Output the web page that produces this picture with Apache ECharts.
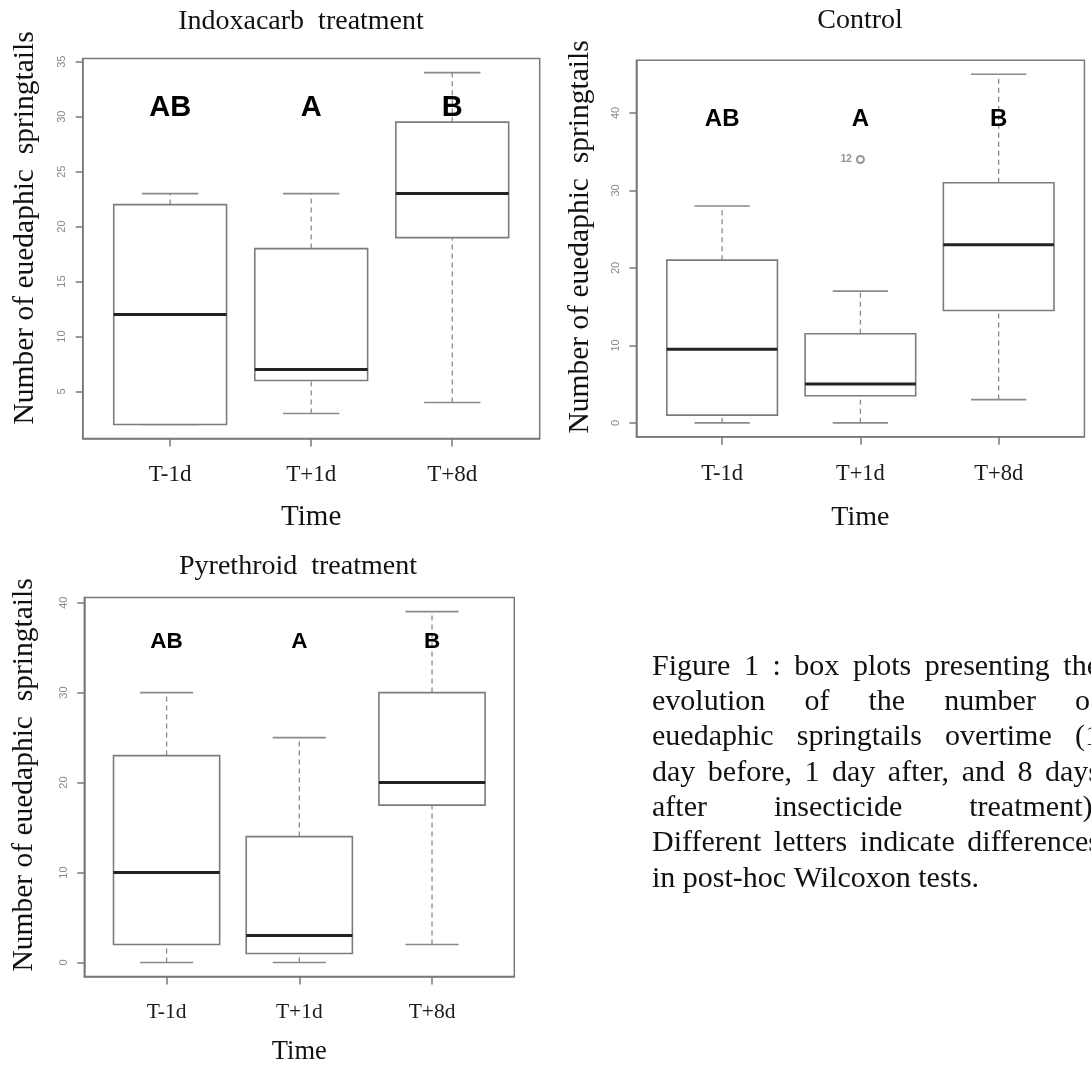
<!DOCTYPE html>
<html><head><meta charset="utf-8">
<script src="https://cdn.jsdelivr.net/npm/echarts@6/dist/echarts.min.js"></script>
<style>html,body{margin:0;padding:0;background:#fff}#c{width:1091px;height:1068px}</style>
</head><body><div id="c"></div>
<script>
// ---------------- data ----------------
const timeCategories = ['T-1d', 'T+1d', 'T+8d'];
// each box: [min, Q1, median, Q3, max]
const indoxacarbBoxes = [[2, 2, 12, 22, 23], [3, 6, 7, 18, 23], [4, 19, 23, 29.5, 34]];
const controlBoxes    = [[0, 1, 9.5, 21, 28], [0, 3.5, 5, 11.5, 17], [3, 14.5, 23, 31, 45]];
const pyrethroidBoxes = [[0, 2, 10, 23, 30], [0, 1, 3, 14, 25], [2, 17.5, 20, 30, 39]];
// outliers: [category position (1-based), value, point label]
const indoxacarbOutliers = [];
const controlOutliers = [[2, 34, '12']];
const pyrethroidOutliers = [];
const groupLetters = ['AB', 'A', 'B'];
const indoxacarbLetterLevel = 30.8;
const controlLetterLevel = 39.2;
const pyrethroidLetterLevel = 35.6;
const indoxacarbTicks = [5, 10, 15, 20, 25, 30, 35];
const controlTicks = [0, 10, 20, 30, 40];
const pyrethroidTicks = [0, 10, 20, 30, 40];
const panelTitles = ['Indoxacarb  treatment', 'Control', 'Pyrethroid  treatment'];
const yAxisTitle = 'Number of euedaphic  springtails';
const xAxisTitle = 'Time';
const captionLines = [
  'Figure 1 : box plots presenting the',
  'evolution of the number of',
  'euedaphic springtails overtime (1',
  'day before, 1 day after, and 8 days',
  'after insecticide treatment).',
  'Different letters indicate differences',
  'in post-hoc Wilcoxon tests.'
];

// ---------------- layout / style ----------------
const SERIF = "'Liberation Serif', 'Times New Roman', serif";
const SANS = "'Liberation Sans', Arial, sans-serif";
const panels = [
  { boxes: indoxacarbBoxes, outliers: indoxacarbOutliers, ticks: indoxacarbTicks, letterLevel: indoxacarbLetterLevel,
    grid: { left: 82.7, top: 58.6, width: 457, height: 380 }, letterSize: 29, catSize: 23, timeSize: 29, timeGap: 64, catMargin: 25,
    title: { x: 301, y: 22 }, ytitle: { x: 25, y: 228 } },
  { boxes: controlBoxes, outliers: controlOutliers, ticks: controlTicks, letterLevel: controlLetterLevel,
    grid: { left: 636.4, top: 60.3, width: 448, height: 376.5 }, letterSize: 24, catSize: 22.5, timeSize: 28, timeGap: 67, catMargin: 26,
    title: { x: 860, y: 21 }, ytitle: { x: 580, y: 237 } },
  { boxes: pyrethroidBoxes, outliers: pyrethroidOutliers, ticks: pyrethroidTicks, letterLevel: pyrethroidLetterLevel,
    grid: { left: 84.3, top: 597.6, width: 430, height: 379 }, letterSize: 22.5, catSize: 21.5, timeSize: 26.5, timeGap: 62, catMargin: 25,
    title: { x: 298, y: 567 }, ytitle: { x: 24, y: 775 } }
];

const BOX_HALF = 0.4, CAP_HALF = 0.2;
function boxRender(params, api) {
  const x = api.value(0), mn = api.value(1), q1 = api.value(2), md = api.value(3), q3 = api.value(4), mx = api.value(5);
  const p = (xx, yy) => api.coord([xx, yy]);
  const line = (a, b, style) => ({ type: 'line', shape: { x1: a[0], y1: a[1], x2: b[0], y2: b[1] }, style });
  const dashed = { stroke: '#8a8a8a', lineWidth: 1.3, lineDash: [5, 4] };
  const solid = { stroke: '#8a8a8a', lineWidth: 1.6 };
  const tl = p(x - BOX_HALF, q3), br = p(x + BOX_HALF, q1);
  return { type: 'group', children: [
    line(p(x, q3), p(x, mx), dashed),
    line(p(x, mn), p(x, q1), dashed),
    line(p(x - CAP_HALF, mx), p(x + CAP_HALF, mx), solid),
    line(p(x - CAP_HALF, mn), p(x + CAP_HALF, mn), solid),
    { type: 'rect', shape: { x: tl[0], y: tl[1], width: br[0] - tl[0], height: br[1] - tl[1] },
      style: { fill: '#fff', stroke: '#7c7c7c', lineWidth: 1.6 } },
    line(p(x - BOX_HALF, md), p(x + BOX_HALF, md), { stroke: '#222', lineWidth: 3 })
  ] };
}
function letterRender(size) {
  return function (params, api) {
    const c = api.coord([api.value(0), api.value(1)]);
    return { type: 'text', x: c[0], y: c[1],
      style: { text: groupLetters[params.dataIndex], font: 'bold ' + size + 'px ' + SANS, fill: '#000',
        textAlign: 'center', textVerticalAlign: 'middle', verticalAlign: 'middle' } };
  };
}

const grids = [], xAxes = [], yAxes = [], series = [], graphics = [];
panels.forEach((pn, k) => {
  grids.push(Object.assign({ show: true, borderColor: '#7a7a7a', borderWidth: 1.5, backgroundColor: 'transparent' }, pn.grid));
  // R-style range: data extremes padded 4 %
  const vals = pn.boxes.flat().concat(pn.outliers.map(o => o[1]));
  const lo = Math.min(...vals), hi = Math.max(...vals), pad = 0.04 * (hi - lo);
  const catPos = timeCategories.map((c, i) => i + 1);
  xAxes.push({
    gridIndex: k, type: 'value', min: 0.5 - 0.04 * 3, max: 3.5 + 0.04 * 3,
    splitLine: { show: false },
    axisLine: { show: true, onZero: false, lineStyle: { color: '#7a7a7a', width: 1.5 } },
    axisTick: { show: true, customValues: catPos, length: 8, lineStyle: { color: '#7a7a7a', width: 1.5 } },
    axisLabel: { show: true, customValues: catPos, margin: pn.catMargin, formatter: v => timeCategories[Math.round(v) - 1],
      fontFamily: SERIF, fontSize: pn.catSize, color: '#1a1a1a' },
    name: xAxisTitle, nameLocation: 'middle', nameGap: pn.timeGap,
    nameTextStyle: { fontFamily: SERIF, fontSize: pn.timeSize, color: '#111' }
  });
  yAxes.push({
    gridIndex: k, type: 'value', min: lo - pad, max: hi + pad,
    splitLine: { show: false },
    axisLine: { show: true, onZero: false, lineStyle: { color: '#7a7a7a', width: 1.5 } },
    axisTick: { show: true, customValues: pn.ticks, length: 7, lineStyle: { color: '#7a7a7a', width: 1.5 } },
    axisLabel: { show: true, customValues: pn.ticks, rotate: 90, margin: 15,
      fontFamily: SANS, fontSize: 11, color: '#8a8a8a' }
  });
  series.push({
    type: 'custom', xAxisIndex: k, yAxisIndex: k, renderItem: boxRender,
    encode: { x: 0, y: [1, 2, 3, 4, 5] },
    data: pn.boxes.map((b, i) => [i + 1].concat(b)), z: 2
  });
  series.push({
    type: 'custom', xAxisIndex: k, yAxisIndex: k, renderItem: letterRender(pn.letterSize),
    encode: { x: 0, y: 1 }, silent: true,
    data: groupLetters.map((t, i) => [i + 1, pn.letterLevel]), z: 5
  });
  if (pn.outliers.length) {
    series.push({
      type: 'scatter', xAxisIndex: k, yAxisIndex: k, symbol: 'emptyCircle', symbolSize: 7,
      itemStyle: { color: '#7a7a7a', borderColor: '#7a7a7a', borderWidth: 1.3 },
      data: pn.outliers.map(o => ({ value: [o[0], o[1]], name: o[2] })),
      label: { show: true, position: 'left', distance: 4, formatter: d => d.name, fontFamily: SANS,
        fontWeight: 'bold', fontSize: 10, color: '#777' }, z: 5
    });
  }
  graphics.push({ type: 'text', x: pn.title.x, y: pn.title.y,
    style: { text: panelTitles[k], font: '28px ' + SERIF, fill: '#111', textAlign: 'center', textVerticalAlign: 'middle', verticalAlign: 'middle' } });
  graphics.push({ type: 'text', x: pn.ytitle.x, y: pn.ytitle.y, rotation: Math.PI / 2,
    style: { text: yAxisTitle, font: '29.5px ' + SERIF, fill: '#111', textAlign: 'center', textVerticalAlign: 'middle', verticalAlign: 'middle' } });
});

// justified caption
const capFont = '30px ' + SERIF;
const capLeft = 652, capRight = 1100, capTop = 667, capLineGap = 35.3;
const ctx = document.createElement('canvas').getContext('2d');
ctx.font = capFont;
captionLines.forEach((ln, li) => {
  const y = capTop + li * capLineGap;
  const words = ln.split(' ');
  const last = li === captionLines.length - 1;
  if (last || words.length < 2) {
    graphics.push({ type: 'text', x: capLeft, y, style: { text: ln, font: capFont, fill: '#111', textVerticalAlign: 'middle', verticalAlign: 'middle' } });
    return;
  }
  const widths = words.map(w => ctx.measureText(w).width);
  const total = widths.reduce((a, b) => a + b, 0);
  const gap = (capRight - capLeft - total) / (words.length - 1);
  let x = capLeft;
  words.forEach((w, i) => {
    graphics.push({ type: 'text', x, y, style: { text: w, font: capFont, fill: '#111', textVerticalAlign: 'middle', verticalAlign: 'middle' } });
    x += widths[i] + gap;
  });
});

const chart = echarts.init(document.getElementById('c'), null, { renderer: 'canvas' });
chart.setOption({
  animation: false,
  backgroundColor: '#fff',
  grid: grids, xAxis: xAxes, yAxis: yAxes, series: series,
  graphic: { elements: graphics }
});
</script>
</body></html>
